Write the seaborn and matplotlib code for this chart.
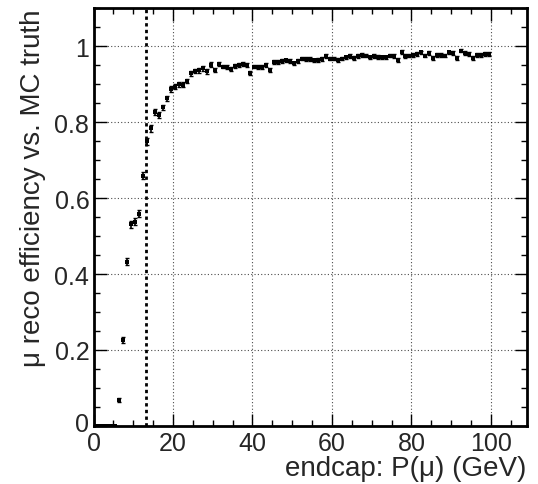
import numpy as np
import pandas as pd
import matplotlib
matplotlib.use("Agg")
import matplotlib.pyplot as plt
import seaborn as sns
from matplotlib.ticker import MultipleLocator, FixedLocator, FixedFormatter

# bin centres (GeV)
p_centres = [i + 0.5 for i in range(100)]

efficiency = [
    0.0, 0.0, 0.0, 0.0, 0.0, 0.0, 0.068, 0.226, 0.432, 0.531,
    0.538, 0.559, 0.659, 0.749, 0.783, 0.827, 0.818, 0.839, 0.862, 0.887,
    0.893, 0.899, 0.898, 0.908, 0.928, 0.934, 0.936, 0.941, 0.933, 0.951,
    0.937, 0.953, 0.946, 0.944, 0.939, 0.948, 0.949, 0.953, 0.951, 0.928,
    0.946, 0.945, 0.945, 0.951, 0.937, 0.957, 0.957, 0.960, 0.962, 0.960,
    0.954, 0.960, 0.967, 0.966, 0.966, 0.962, 0.964, 0.966, 0.973, 0.967,
    0.967, 0.964, 0.967, 0.970, 0.973, 0.968, 0.973, 0.976, 0.975, 0.970,
    0.973, 0.972, 0.970, 0.970, 0.975, 0.974, 0.964, 0.985, 0.973, 0.975,
    0.976, 0.978, 0.983, 0.975, 0.982, 0.968, 0.976, 0.976, 0.975, 0.983,
    0.982, 0.968, 0.988, 0.981, 0.979, 0.968, 0.976, 0.977, 0.980, 0.980,
]

eff_err = [
    0.0, 0.0, 0.0, 0.0, 0.0, 0.0, 0.006, 0.008, 0.009, 0.009,
    0.009, 0.009, 0.009, 0.009, 0.008, 0.008, 0.008, 0.007, 0.007, 0.007,
] + [0.006] * 10 + [0.005] * 70

cut_value = 13.2
x_ticks = [0, 20, 40, 60, 80, 100]
y_ticks = [0, 0.2, 0.4, 0.6, 0.8, 1.0]
y_tick_labels = ["0", "0.2", "0.4", "0.6", "0.8", "1"]

df = pd.DataFrame({"p": p_centres, "eff": efficiency, "err": eff_err})

sns.set_style("ticks")
plt.rcParams["font.family"] = ["Liberation Sans", "DejaVu Sans"]

fig = plt.figure(figsize=(5.38, 4.85), dpi=100)
ax = fig.add_axes([0.1738, 0.1196, 0.979 - 0.1738, 0.9814 - 0.1196])

# grid
ax.grid(True, which="major", linestyle=(0, (1, 2)), color="black", linewidth=0.8, alpha=0.7)
ax.set_axisbelow(True)

ax.errorbar(df["p"], df["eff"], yerr=df["err"], fmt="none", ecolor="black",
            elinewidth=1.2, capsize=1.2, capthick=1.0, zorder=3)
sns.scatterplot(data=df, x="p", y="eff", marker="s", s=9, color="black",
                edgecolor="black", linewidth=0, ax=ax, zorder=4)

ax.axvline(cut_value, color="black", linestyle=(0, (1.2, 1.2)), linewidth=2.0, zorder=5)

ax.set_xlim(0, 109)
ax.set_ylim(0, 1.1)
ax.xaxis.set_major_locator(FixedLocator(x_ticks))
ax.xaxis.set_minor_locator(MultipleLocator(5))
ax.yaxis.set_major_locator(FixedLocator(y_ticks))
ax.yaxis.set_major_formatter(FixedFormatter(y_tick_labels))
ax.yaxis.set_minor_locator(MultipleLocator(0.05))

ax.tick_params(which="both", direction="in", top=True, right=True, labelsize=18,
               color="black", width=1.0)
ax.tick_params(which="major", length=9)
ax.tick_params(which="minor", length=4.5)
ax.tick_params(axis="x", which="major", pad=3.5)
ax.tick_params(axis="y", which="major", pad=3)

# nudge the y-axis "0" label slightly upward, as in the reference corner
ylabels = ax.get_yticklabels()
fig.canvas.draw()
from matplotlib.transforms import ScaledTranslation
ylabels[0].set_transform(ylabels[0].get_transform() + ScaledTranslation(0, 3 / 72, fig.dpi_scale_trans))

for sp in ax.spines.values():
    sp.set_linewidth(2.0)
    sp.set_color("black")

ax.set_xlabel("endcap: P(μ) (GeV)", fontsize=20, loc="right", labelpad=0)
ax.set_ylabel("μ reco efficiency vs. MC truth", fontsize=20, loc="top", labelpad=6)

fig.savefig("out.png", dpi=100)
